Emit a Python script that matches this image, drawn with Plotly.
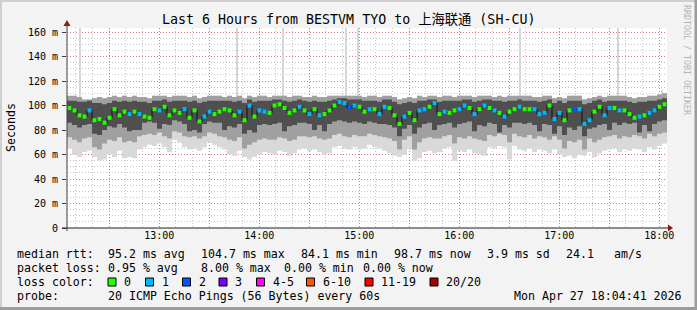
import plotly.graph_objects as go
import pandas as pd

# ---------------- data ----------------
start = pd.Timestamp('2026-04-27 12:04:41')
end = pd.Timestamp('2026-04-27 18:04:41')
step = pd.Timedelta(minutes=3)

median_ms = [98,96,92,91,96,88,89,86,90,97,92,95,93,95,93,91,90,97,96,99,92,96,94,97,90,96,87,91,95,93,
             95,97,96,92,95,88,100,91,96,95,94,100,101,98,94,96,99,96,93,97,92,93,96,100,103,102,98,100,99,95,
             97,97,93,99,98,92,85,91,94,88,96,97,99,102,93,95,94,96,97,100,98,93,97,100,98,96,94,91,95,97,
             99,97,97,97,93,94,100,89,94,88,96,97,97,85,88,95,99,92,98,98,96,96,93,90,91,92,94,96,99,101]

loss = [0,0,0,0,1,0,0,0,0,0, 0,0,1,0,1,0,0,0,1,0, 0,0,0,1,0,0,0,1,1,0,
        0,0,0,0,1,0,1,0,1,1, 0,0,0,0,0,0,1,0,1,0, 1,0,0,0,1,1,2,1,0,0,
        1,0,1,1,0,0,0,1,0,0, 1,1,0,1,0,1,0,0,1,1, 0,1,0,1,0,1,0,1,0,0,
        1,0,0,1,1,1,0,1,1,0, 0,2,1,1,1,0,0,1,1,0, 1,0,0,0,1,0,1,1,0,0]

smoke_min = [65,60,58,62,63,58,55,56,60,58,63,57,58,57,64,66,68,67,69,66,62,72,70,66,64,65,63,66,70,68,
             66,64,60,59,63,58,56,58,60,62,61,60,63,62,59,61,64,65,63,64,62,60,61,66,67,65,64,66,64,65,
             68,66,65,63,61,59,58,60,64,55,57,62,63,61,62,65,66,55,63,62,64,61,60,59,66,65,67,66,56,67,
             64,63,65,62,64,63,61,64,60,58,59,57,60,59,62,58,61,63,64,65,62,64,63,65,64,62,66,64,67,69]

smoke_lo = [74,72,70,73,74,66,64,69,72,71,74,70,71,70,75,76,77,76,78,75,73,79,78,75,74,75,73,75,78,77,
            75,74,72,71,74,65,68,70,72,73,72,72,74,73,71,72,75,75,74,75,73,72,73,76,77,75,74,76,75,75,
            77,76,75,74,73,71,64,72,75,64,70,73,74,73,73,75,76,69,74,73,75,73,72,71,76,75,77,76,70,77,
            75,74,76,73,75,74,72,75,72,65,71,70,72,64,73,70,72,74,75,76,73,75,74,76,75,73,77,75,77,78]

smoke_q1 = [86,84,82,84,85,77,76,80,83,82,85,82,79,80,80,86,87,86,81,85,84,88,87,85,79,80,78,85,87,86,
            86,80,83,82,85,77,80,78,84,85,84,85,86,79,83,84,86,86,85,80,84,79,85,87,88,87,86,87,86,85,
            87,86,85,85,84,82,75,81,84,77,82,85,86,80,84,85,86,82,85,86,87,79,84,83,86,85,78,84,82,86,
            86,85,86,84,79,85,84,77,83,76,82,80,83,75,81,82,84,85,80,86,84,86,85,86,78,84,79,85,87,88]

smoke_q3 = [104,104,103,103,104,102,102,101,102,104,103,104,103,104,103,103,102,104,104,105,103,104,104,104,103,104,102,103,104,104,
            104,104,104,103,104,102,105,103,104,104,104,105,105,104,103,104,105,104,103,104,103,103,104,105,106,106,105,105,105,104,
            104,104,103,105,105,103,101,102,103,102,104,104,105,105,103,104,104,104,104,105,105,103,104,105,105,104,104,103,104,104,
            105,104,104,104,103,104,105,102,104,102,104,104,104,101,102,104,105,103,104,104,104,104,103,102,103,103,104,104,105,106]

smoke_max = [108,108,107,105,105,106,107,106,107,108,107,108,107,108,107,107,106,108,108,108,107,108,108,108,107,108,106,107,108,108,
             108,107,108,107,108,106,108,107,108,108,107,108,108,108,107,108,108,107,107,108,107,107,108,108,108,108,108,108,108,107,
             108,108,107,108,108,107,105,106,107,106,108,107,108,108,107,108,108,107,108,108,108,107,108,108,108,107,108,107,108,108,
             108,108,108,107,107,108,108,106,107,106,108,108,108,105,106,107,108,107,108,108,108,108,107,106,107,107,108,108,109,110]

spike_times = ['2026-04-27 12:12:30', '2026-04-27 13:46:40', '2026-04-27 14:14:20', '2026-04-27 14:52:00',
               '2026-04-27 14:59:20', '2026-04-27 16:36:30', '2026-04-27 17:35:20', '2026-04-27 18:01:40']
spike_tops = [175, 175, 175, 175, 175, 175, 175, 113]
spike_base = 100

loss_colors = {0: '#26FF00', 1: '#00B8FF', 2: '#0059FF', 3: '#7E00FF'}
legend_items = [('0', '#26FF00'), ('1', '#00B8FF'), ('2', '#0059FF'), ('3', '#7E00FF'),
                ('4-5', '#FF00FF'), ('6-10', '#FF5500'), ('11-19', '#FF0000'), ('20/20', '#A10000')]
y_ticks = [0, 20, 40, 60, 80, 100, 120, 140, 160]
y_tick_text = ['0' if v == 0 else f'{v} m' for v in y_ticks]
x_ticks = pd.date_range('2026-04-27 12:30', '2026-04-27 18:00', freq='30min')
x_tick_text = [t.strftime('%H:%M') if t.minute == 0 else '' for t in x_ticks]

# ---------------- figure ----------------
n = len(median_ms)
edges = [start + step * k for k in range(n)] + [end]
centers = [start + step * k + step / 2 for k in range(n)]
ext = lambda a: list(a) + [a[-1]]

MONO = 'DejaVu Sans Mono'
fig = go.Figure()

fig.add_trace(go.Bar(x=pd.to_datetime(spike_times), y=[t - spike_base for t in spike_tops], base=spike_base,
                     width=72000, marker=dict(color='#D6D6D6', line=dict(width=0)),
                     hoverinfo='skip', showlegend=False))

bands = [(smoke_min, smoke_max, '#D9D9D9'), (smoke_lo, smoke_max, '#A0A0A0'), (smoke_q1, smoke_q3, '#4F4F4F')]
for lo_arr, hi_arr, col in bands:
    fig.add_trace(go.Scatter(x=edges, y=ext(lo_arr), mode='lines', line=dict(width=0, shape='hv'),
                             hoverinfo='skip', showlegend=False))
    fig.add_trace(go.Scatter(x=edges, y=ext(hi_arr), mode='lines', line=dict(width=0, shape='hv'),
                             fill='tonexty', fillcolor=col, hoverinfo='skip', showlegend=False))

fig.add_trace(go.Scatter(x=edges, y=ext(median_ms), mode='lines', line=dict(color='#111111', width=1, shape='hv'),
                         hoverinfo='skip', showlegend=False))
fig.add_trace(go.Scatter(x=centers, y=median_ms, mode='markers',
                         marker=dict(symbol='square', size=4, color=[loss_colors[l] for l in loss], line=dict(width=0)),
                         hoverinfo='skip', showlegend=False))

# helpers: pixel -> paper coordinates
L, R, T, B = 67, 667, 28, 228
px = lambda x: (x - L) / (R - L)
py = lambda y: (B - y) / (B - T)

shapes = []
annos = []

def text(s, x, y, size=11.6, color='#000', anchor='left', angle=0, family=MONO):
    annos.append(dict(text=s, x=px(x), y=py(y), xref='paper', yref='paper', xanchor=anchor, yanchor='middle',
                      showarrow=False, textangle=angle, font=dict(family=family, size=size, color=color)))

# frame
shapes += [
    dict(type='rect', xref='paper', yref='paper', x0=px(0), x1=px(697), y0=py(0), y1=py(2), fillcolor='#CFCFCF', line=dict(width=0), layer='above'),
    dict(type='rect', xref='paper', yref='paper', x0=px(0), x1=px(2), y0=py(0), y1=py(310), fillcolor='#CFCFCF', line=dict(width=0), layer='above'),
    dict(type='rect', xref='paper', yref='paper', x0=px(0), x1=px(697), y0=py(307), y1=py(310), fillcolor='#9C9C9C', line=dict(width=0), layer='above'),
    dict(type='rect', xref='paper', yref='paper', x0=px(694.5), x1=px(697), y0=py(0), y1=py(310), fillcolor='#9C9C9C', line=dict(width=0), layer='above'),
]
# axes lines and arrows
shapes += [
    dict(type='line', xref='paper', yref='paper', x0=px(62), x1=px(669), y0=py(228), y1=py(228), line=dict(color='#202020', width=1), layer='above'),
    dict(type='line', xref='paper', yref='paper', x0=px(67), x1=px(67), y0=py(231), y1=py(24), line=dict(color='#404040', width=1), layer='above'),
    dict(type='path', xref='paper', yref='paper',
         path=f'M {px(668)} {py(224.5)} L {px(673)} {py(228)} L {px(668)} {py(231.5)} Z',
         fillcolor='#8B1A1A', line=dict(width=0), layer='above'),
    dict(type='path', xref='paper', yref='paper',
         path=f'M {px(63.5)} {py(26)} L {px(67)} {py(20)} L {px(70.5)} {py(26)} Z',
         fillcolor='#8B1A1A', line=dict(width=0), layer='above'),
]

# title, axis label, watermark
text('Last 6 Hours from BESTVM TYO to 上海联通 (SH-CU)', 348, 20, size=13.3, anchor='center',
     family='DejaVu Sans Mono, Noto Sans CJK SC')
text('Seconds', 11, 128, anchor='center', angle=-90)
text('RRDTOOL / TOBI OETIKER', 687, 60, size=8.3, color='#B4B4B4', anchor='center', angle=90)

# legend lines
text('median rtt:', 15, 254)
text('95.2 ms avg', 106, 254)
text('104.7 ms max', 199, 254)
text('84.1 ms min', 299, 254)
text('98.7 ms now', 392, 254)
text('3.9 ms sd', 485, 254)
text('24.1', 564, 254)
text('am/s', 612, 254)

text('packet loss:', 15, 268)
text('0.95 % avg', 106, 268)
text('8.00 % max', 199, 268)
text('0.00 % min', 282, 268)
text('0.00 % now', 361, 268)

text('loss color:', 15, 282)
sq_x = [108, 145.5, 182.5, 219, 256.5, 306.5, 365, 430]
for (lbl, col), sx in zip(legend_items, sq_x):
    shapes.append(dict(type='rect', xref='paper', yref='paper', x0=px(sx), x1=px(sx + 8), y0=py(278), y1=py(286),
                       fillcolor=col, line=dict(color='#000', width=1), layer='above'))
    text(lbl, sx + 14, 282)

text('probe:', 15, 296)
text('20 ICMP Echo Pings (56 Bytes) every 60s', 106, 296)
text('Mon Apr 27 18:04:41 2026', 512, 296)

fig.update_layout(
    width=697, height=310,
    margin=dict(l=L, r=697 - R, t=T, b=310 - B, pad=0),
    paper_bgcolor='#F3F3F3', plot_bgcolor='#FFFFFF',
    showlegend=False, bargap=0,
    shapes=shapes, annotations=annos,
    xaxis=dict(type='date', range=[start, end], tickvals=list(x_ticks), ticktext=x_tick_text,
               showgrid=True, gridcolor='rgba(255,0,0,0.38)', griddash='1px,2px', gridwidth=1,
               ticks='', tickfont=dict(family=MONO, size=10, color='#000'), showline=False, zeroline=False,
               minor=dict(dtick=600000, tick0='2026-04-27 12:00:00', showgrid=True,
                          gridcolor='rgba(128,128,128,0.45)', griddash='1px,2px', gridwidth=1)),
    yaxis=dict(range=[0, 163.3], tickvals=y_ticks, ticktext=y_tick_text,
               showgrid=True, gridcolor='rgba(255,0,0,0.38)', griddash='1px,2px', gridwidth=1,
               ticks='outside', ticklen=4, tickcolor='#404040', ticklabelstandoff=2,
               tickfont=dict(family=MONO, size=10, color='#000'), showline=False, zeroline=False,
               minor=dict(dtick=5, tick0=0, showgrid=True,
                          gridcolor='rgba(128,128,128,0.45)', griddash='1px,2px', gridwidth=1)),
)

fig.write_html('out.html')
